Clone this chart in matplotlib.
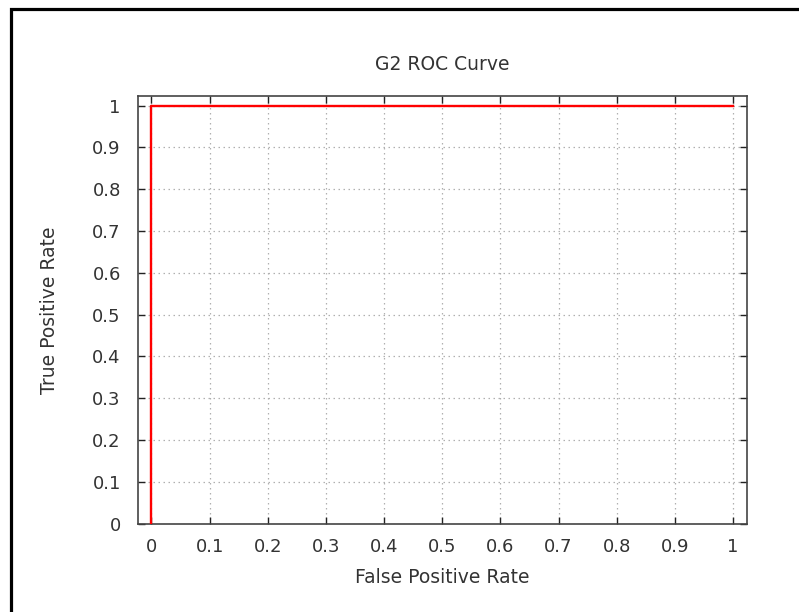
import matplotlib.pyplot as plt
from matplotlib.patches import Rectangle

# ROC points (false positive rate, true positive rate)
fpr = [0.0, 0.0, 1.0]
tpr = [0.0, 1.0, 1.0]
ticks = [0, 0.1, 0.2, 0.3, 0.4, 0.5, 0.6, 0.7, 0.8, 0.9, 1]
tick_labels = ["0", "0.1", "0.2", "0.3", "0.4", "0.5", "0.6", "0.7", "0.8", "0.9", "1"]

fig = plt.figure(figsize=(7.99, 6.12), dpi=100)
ax = fig.add_axes([0.1721, 0.1443, 0.7628, 0.6988])

ax.plot(fpr, tpr, color="red", lw=1.7, zorder=3)

ax.set_xlim(-0.024, 1.024)
ax.set_ylim(0, 1.023)
ax.set_xticks(ticks)
ax.set_xticklabels(tick_labels)
ax.set_yticks(ticks)
ax.set_yticklabels(tick_labels)
ax.tick_params(direction="in", length=5, width=1, color="#222222",
               top=True, right=True, labelsize=13, labelcolor="#333333")
ax.tick_params(axis="x", pad=10)
ax.tick_params(axis="y", pad=12)
for s in ax.spines.values():
    s.set_color("#444444")
    s.set_linewidth(1.2)
ax.grid(True, color="#b0b0b0", linestyle=(0, (1.2, 2.8)), lw=0.9)

ax.set_title("G2 ROC Curve", fontsize=13.5, color="#333333", pad=19)
ax.set_xlabel("False Positive Rate", fontsize=13.5, color="#333333", labelpad=9)
ax.set_ylabel("True Positive Rate", fontsize=13.5, color="#333333", labelpad=24)

# outer frame (only top and left edges visible in the crop)
fig.add_artist(Rectangle((11.3 / 799, -0.1), 1.2, 1.1 - 9.3 / 612,
                         transform=fig.transFigure, fill=False,
                         edgecolor="black", lw=2.3))

plt.savefig("out.png", dpi=100)
